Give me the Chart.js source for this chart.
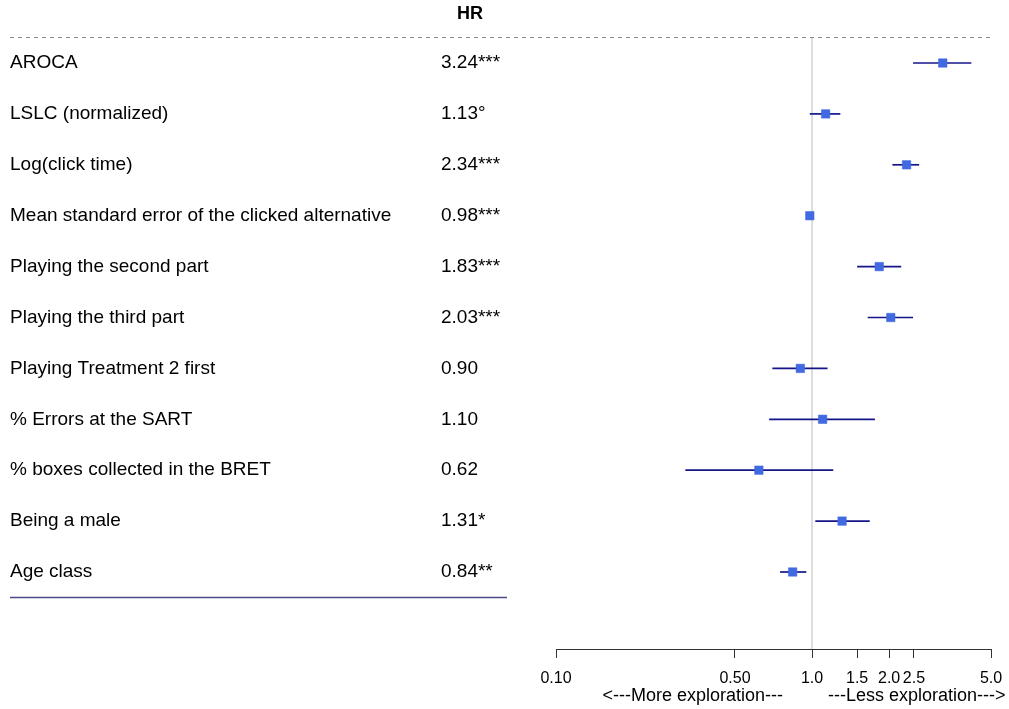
<!DOCTYPE html>
<html>
<head>
<meta charset="utf-8">
<script src="https://cdn.jsdelivr.net/npm/chart.js@4.4.1/dist/chart.umd.min.js"></script>
<style>
  html, body { margin: 0; padding: 0; background: #ffffff; }
  #wrap { width: 1009px; height: 709px; position: relative; }
</style>
</head>
<body>
<div id="wrap"><canvas id="c" width="1009" height="709"></canvas></div>
<script>
const rowLabels = [
  "AROCA",
  "LSLC (normalized)",
  "Log(click time)",
  "Mean standard error of the clicked alternative",
  "Playing the second part",
  "Playing the third part",
  "Playing Treatment 2 first",
  "% Errors at the SART",
  "% boxes collected in the BRET",
  "Being a male",
  "Age class"
];
const hrText = ["3.24***", "1.13°", "2.34***", "0.98***", "1.83***", "2.03***", "0.90", "1.10", "0.62", "1.31*", "0.84**"];
const hrValues = [3.24, 1.13, 2.34, 0.98, 1.83, 2.03, 0.90, 1.10, 0.62, 1.31, 0.84];
const ciLower = [2.48, 0.98, 2.06, 0.97, 1.50, 1.65, 0.70, 0.68, 0.32, 1.03, 0.75];
const ciUpper = [4.19, 1.29, 2.62, 0.99, 2.23, 2.48, 1.15, 1.76, 1.21, 1.68, 0.95];
const tickValues = [0.1, 0.5, 1.0, 1.5, 2.0, 2.5, 5.0];
const tickLabels = ["0.10", "0.50", "1.0", "1.5", "2.0", "2.5", "5.0"];
const headerText = "HR";
const leftNote = "<---More exploration---";
const rightNote = "---Less exploration--->";

const FONT = "'Liberation Sans', Arial, Helvetica, sans-serif";

const ciDatasets = rowLabels.map((lab, i) => ({
  type: 'line',
  label: lab + ' CI',
  data: [{x: ciLower[i], y: i}, {x: ciUpper[i], y: i}],
  borderColor: '#15158a',
  borderWidth: 1.7,
  pointRadius: 0,
  fill: false,
  order: 2
}));

const pointDataset = {
  type: 'scatter',
  label: 'HR',
  data: hrValues.map((v, i) => ({x: v, y: i})),
  pointStyle: 'rect',
  pointRadius: 6,
  pointHoverRadius: 6,
  backgroundColor: '#4169E1',
  borderColor: '#4169E1',
  borderWidth: 0.5,
  order: 1
};

const forestPlugin = {
  id: 'forest',
  beforeDatasetsDraw(chart) {
    const ctx = chart.ctx;
    const xs = chart.scales.x;
    const ca = chart.chartArea;
    const x1 = xs.getPixelForValue(1);
    ctx.save();
    ctx.strokeStyle = '#dddddd';
    ctx.lineWidth = 2;
    ctx.beginPath();
    ctx.moveTo(x1, ca.top + 1);
    ctx.lineTo(x1, ca.bottom);
    ctx.stroke();
    ctx.restore();
  },
  afterDraw(chart) {
    const ctx = chart.ctx;
    const xs = chart.scales.x;
    const ys = chart.scales.y;
    const ca = chart.chartArea;
    ctx.save();
    // header
    ctx.fillStyle = '#000';
    ctx.font = 'bold 18px ' + FONT;
    ctx.textAlign = 'left';
    ctx.textBaseline = 'middle';
    ctx.fillText(headerText, 457, 14);
    // dashed line
    ctx.strokeStyle = '#888888';
    ctx.lineWidth = 1;
    ctx.setLineDash([4, 4]);
    ctx.beginPath();
    ctx.moveTo(10, ca.top + 0.5);
    ctx.lineTo(990, ca.top + 0.5);
    ctx.stroke();
    ctx.setLineDash([]);
    // row labels and values
    ctx.font = '19px ' + FONT;
    ctx.fillStyle = '#000';
    rowLabels.forEach((lab, i) => {
      const y = ys.getPixelForValue(i);
      ctx.fillText(lab, 10, y);
      ctx.fillText(hrText[i], 441, y);
    });
    // bottom solid line
    const yb = (ys.getPixelForValue(rowLabels.length - 1) + ys.getPixelForValue(rowLabels.length)) / 2;
    ctx.strokeStyle = '#4a4a85';
    ctx.lineWidth = 1.5;
    ctx.beginPath();
    ctx.moveTo(10, yb);
    ctx.lineTo(507, yb);
    ctx.stroke();
    // exploration notes
    const x1 = xs.getPixelForValue(1);
    ctx.font = '18px ' + FONT;
    ctx.textAlign = 'right';
    ctx.fillText(leftNote, x1 - 29, 696);
    ctx.textAlign = 'left';
    ctx.fillText(rightNote, x1 + 16, 696);
    ctx.restore();
  }
};

new Chart(document.getElementById('c'), {
  data: { datasets: [pointDataset, ...ciDatasets] },
  options: {
    responsive: false,
    devicePixelRatio: 1,
    animation: false,
    events: [],
    layout: { padding: { left: 556, right: 18, top: 37, bottom: 0 } },
    plugins: { legend: { display: false }, tooltip: { enabled: false } },
    scales: {
      x: {
        type: 'logarithmic',
        min: 0.1,
        max: 5,
        afterBuildTicks: (scale) => { scale.ticks = tickValues.map(v => ({ value: v })); },
        afterFit: (scale) => { scale.height = 60; scale.paddingLeft = 0; scale.paddingRight = 0; },
        grid: { display: true, drawOnChartArea: false, drawTicks: true, tickLength: 9, color: '#333333', lineWidth: 1 },
        border: { display: true, color: '#333333', width: 1 },
        ticks: {
          autoSkip: false,
          maxRotation: 0,
          padding: 11,
          color: '#000',
          font: { family: FONT, size: 16 },
          callback: (value, index) => tickLabels[index]
        }
      },
      y: {
        type: 'linear',
        display: false,
        reverse: true,
        min: -0.511,
        max: 11.513
      }
    }
  },
  plugins: [forestPlugin]
});
</script>
</body>
</html>
